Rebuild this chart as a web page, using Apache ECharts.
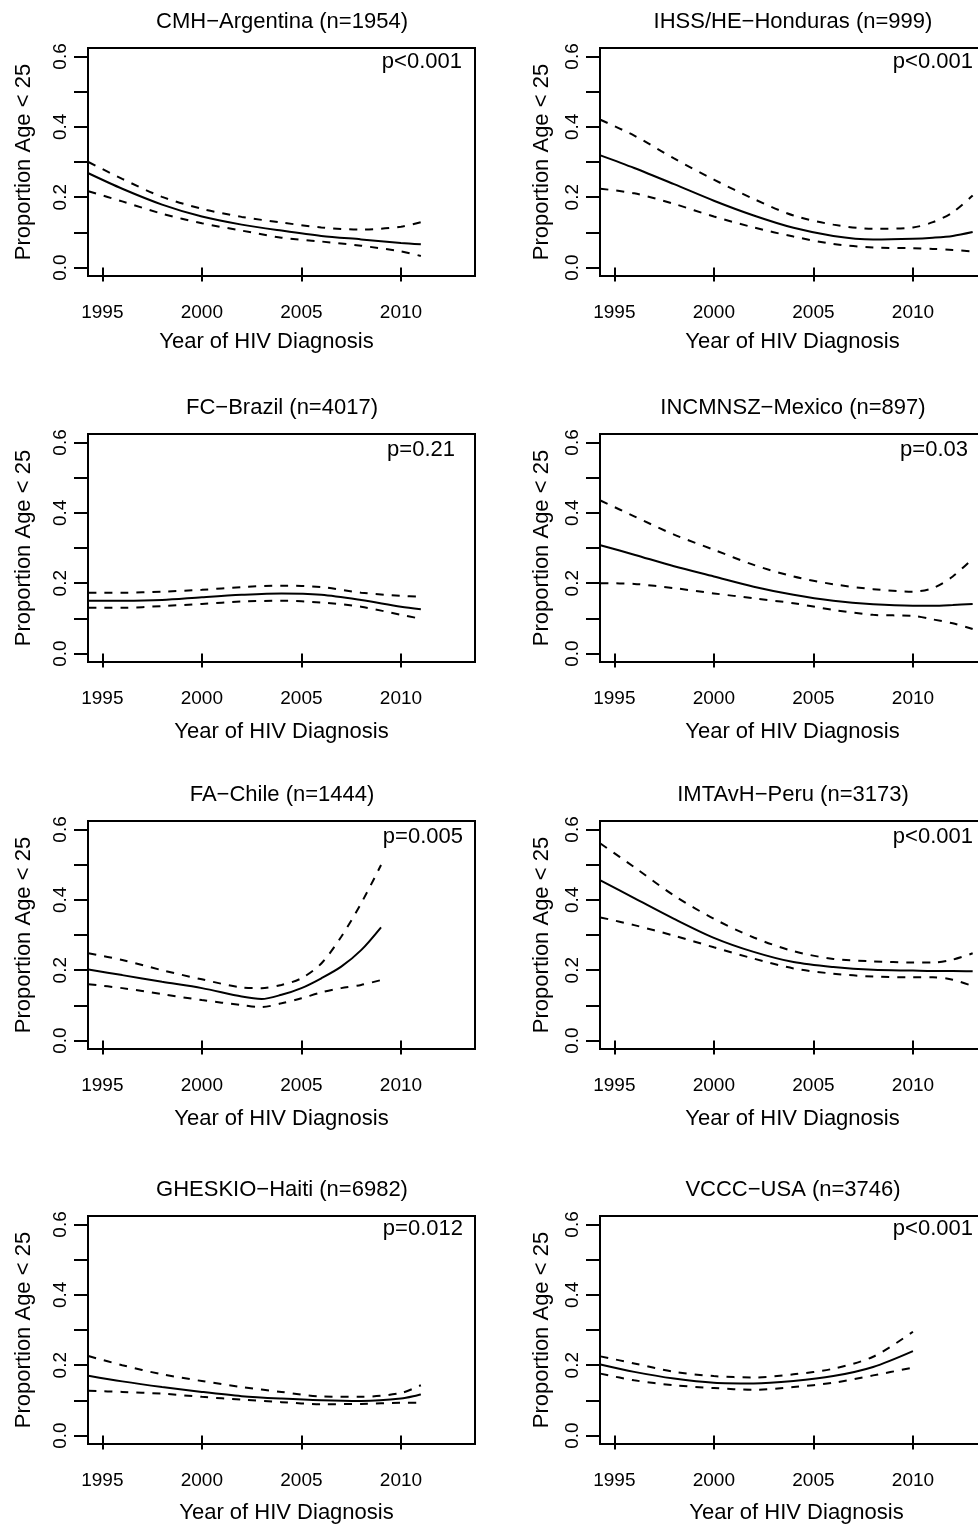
<!DOCTYPE html>
<html>
<head>
<meta charset="utf-8">
<style>
  html, body { margin: 0; padding: 0; background: #fff; }
  #chart-container { width: 978px; height: 1524px; }
</style>
</head>
<body>
<div id="chart-container"></div>
<script src="https://cdn.jsdelivr.net/npm/echarts@6/dist/echarts.min.js"></script>
<script>
var dom = document.getElementById("chart-container");
var myChart = echarts.init(dom, null, { renderer: "canvas" });

const FONT = "'Liberation Sans', Arial, Helvetica, sans-serif";

const panelTitles = [
  "CMH\u2212Argentina (n=1954)", "IHSS/HE\u2212Honduras (n=999)",
  "FC\u2212Brazil (n=4017)", "INCMNSZ\u2212Mexico (n=897)",
  "FA\u2212Chile (n=1444)", "IMTAvH\u2212Peru (n=3173)",
  "GHESKIO\u2212Haiti (n=6982)", "VCCC\u2212USA (n=3746)"
];
const pValues = ["p<0.001", "p<0.001", "p=0.21", "p=0.03", "p=0.005", "p<0.001", "p=0.012", "p<0.001"];
const xTicks = [1995, 2000, 2005, 2010];
const yTicks = [0, 0.1, 0.2, 0.3, 0.4, 0.5, 0.6];
const yLabels = [0, 0.2, 0.4, 0.6];

// Argentina
const argYears = [1994.3, 1996, 1998, 2000, 2002, 2004, 2006, 2008, 2010, 2011];
const argFit   = [0.268, 0.224, 0.179, 0.145, 0.122, 0.105, 0.090, 0.080, 0.070, 0.066];
const argUpper = [0.30, 0.252, 0.201, 0.167, 0.144, 0.128, 0.114, 0.108, 0.116, 0.129];
const argLower = [0.217, 0.188, 0.153, 0.126, 0.105, 0.085, 0.074, 0.062, 0.046, 0.033];

// Honduras
const honYears = [1994.3, 1996, 1998, 2000, 2002, 2004, 2006, 2008, 2010, 2011, 2012, 2013];
const honFit   = [0.319, 0.283, 0.237, 0.19, 0.148, 0.113, 0.09, 0.08, 0.082, 0.085, 0.09, 0.101];
const honUpper = [0.42, 0.375, 0.31, 0.25, 0.195, 0.148, 0.122, 0.11, 0.114, 0.129, 0.157, 0.205];
const honLower = [0.224, 0.211, 0.181, 0.145, 0.114, 0.088, 0.067, 0.057, 0.055, 0.053, 0.05, 0.046];

// Brazil
const braYears = [1994.3, 1996, 1998, 2000, 2002, 2004, 2006, 2008, 2010, 2011];
const braFit   = [0.15, 0.15, 0.152, 0.16, 0.167, 0.171, 0.167, 0.152, 0.133, 0.126];
const braUpper = [0.173, 0.173, 0.176, 0.181, 0.189, 0.193, 0.189, 0.173, 0.164, 0.162];
const braLower = [0.13, 0.13, 0.135, 0.141, 0.148, 0.15, 0.145, 0.133, 0.11, 0.099];

// Mexico
const mexYears = [1994.3, 1996, 1998, 2000, 2002, 2004, 2006, 2008, 2010, 2011, 2012, 2013];
const mexFit   = [0.308, 0.281, 0.248, 0.219, 0.19, 0.167, 0.15, 0.14, 0.136, 0.136, 0.138, 0.141];
const mexUpper = [0.435, 0.39, 0.338, 0.295, 0.252, 0.219, 0.197, 0.183, 0.176, 0.186, 0.219, 0.27];
const mexLower = [0.2, 0.198, 0.186, 0.171, 0.157, 0.143, 0.124, 0.11, 0.107, 0.097, 0.086, 0.07];

// Chile
const chiYears = [1994.3, 1996, 1998, 2000, 2002, 2003, 2004, 2005, 2006, 2007, 2008, 2009];
const chiFit   = [0.202, 0.186, 0.167, 0.149, 0.125, 0.118, 0.13, 0.149, 0.177, 0.21, 0.257, 0.322];
const chiUpper = [0.248, 0.229, 0.2, 0.174, 0.151, 0.149, 0.158, 0.177, 0.219, 0.295, 0.39, 0.499];
const chiLower = [0.16, 0.149, 0.132, 0.115, 0.101, 0.095, 0.106, 0.12, 0.137, 0.149, 0.158, 0.172];

// Peru
const perYears = [1994.3, 1996, 1998, 2000, 2002, 2004, 2006, 2008, 2010, 2011, 2012, 2013];
const perFit   = [0.455, 0.405, 0.346, 0.292, 0.252, 0.223, 0.209, 0.201, 0.199, 0.198, 0.198, 0.197];
const perUpper = [0.56, 0.493, 0.412, 0.346, 0.293, 0.254, 0.232, 0.225, 0.222, 0.222, 0.23, 0.248];
const perLower = [0.35, 0.328, 0.298, 0.265, 0.233, 0.205, 0.19, 0.182, 0.18, 0.18, 0.173, 0.155];

// Haiti
const haiYears = [1994.3, 1996, 1998, 2000, 2002, 2004, 2006, 2008, 2010, 2011];
const haiFit   = [0.17, 0.154, 0.138, 0.124, 0.112, 0.105, 0.1, 0.098, 0.105, 0.117];
const haiUpper = [0.226, 0.2, 0.174, 0.155, 0.138, 0.124, 0.111, 0.11, 0.121, 0.143];
const haiLower = [0.127, 0.124, 0.119, 0.11, 0.102, 0.095, 0.089, 0.09, 0.093, 0.093];

// USA
const usaYears = [1994.3, 1996, 1998, 2000, 2002, 2004, 2006, 2008, 2010];
const usaFit   = [0.202, 0.181, 0.162, 0.15, 0.148, 0.155, 0.169, 0.195, 0.24];
const usaUpper = [0.225, 0.205, 0.181, 0.169, 0.165, 0.174, 0.19, 0.224, 0.295];
const usaLower = [0.176, 0.157, 0.143, 0.135, 0.13, 0.138, 0.15, 0.171, 0.193];

const panelData = [
  [argYears, argFit, argUpper, argLower],
  [honYears, honFit, honUpper, honLower],
  [braYears, braFit, braUpper, braLower],
  [mexYears, mexFit, mexUpper, mexLower],
  [chiYears, chiFit, chiUpper, chiLower],
  [perYears, perFit, perUpper, perLower],
  [haiYears, haiFit, haiUpper, haiLower],
  [usaYears, usaFit, usaUpper, usaLower]
];

// layout (pixels)
const colLeft = [88, 600];
const colCenter = [282, 793];
const rowTop = [48, 434, 821, 1216];
const titleMid = [22, 408, 795, 1190];
const pMid = [62, 450, 837, 1229];
const pRight = [462, 973, 455, 968, 463, 973, 463, 973];
const xNameGap = [55, 59, 59, 58];
const xNameShift = [-15, -1, 0, -1, 0, -1, 5, 3];
const yNameGap = [53, 47];
const boxW = 387, boxH = 228;

var grids = [], xAxes = [], yAxes = [], series = [], titles = [];

panelData.forEach(function (d, i) {
  var col = i % 2, row = Math.floor(i / 2);
  grids.push({
    left: colLeft[col], top: rowTop[row], width: boxW, height: boxH,
    show: true, borderColor: "#000", borderWidth: 2,
    backgroundColor: "transparent", containLabel: false, outerBoundsMode: "none"
  });
  var shift = xNameShift[i];
  xAxes.push({
    gridIndex: i, type: "value", min: 1994.28, max: 2013.72,
    axisLine: { show: false },
    splitLine: { show: false },
    axisTick: { show: true, inside: false, length: 14, customValues: xTicks,
      lineStyle: { color: "#000", width: 2 } },
    axisLabel: { customValues: xTicks, margin: 27, fontSize: 19, lineHeight: 19,
      color: "#000", fontFamily: FONT, formatter: function (v) { return String(v); } },
    name: "Year of HIV Diagnosis", nameLocation: "middle", nameGap: xNameGap[row],
    nameTextStyle: { fontSize: 22, lineHeight: 22, color: "#000", fontFamily: FONT,
      padding: shift < 0 ? [0, -2 * shift, 0, 0] : [0, 0, 0, 2 * shift] }
  });
  yAxes.push({
    gridIndex: i, type: "value", min: -0.024, max: 0.624,
    axisLine: { show: false },
    splitLine: { show: false },
    axisTick: { show: true, inside: false, length: 14, customValues: yTicks,
      lineStyle: { color: "#000", width: 2 } },
    axisLabel: { customValues: yLabels, rotate: 90, margin: 18, fontSize: 19, lineHeight: 19,
      color: "#000", fontFamily: FONT, formatter: function (v) { return v.toFixed(1); } },
    name: "Proportion Age < 25", nameLocation: "middle", nameRotate: 90, nameGap: yNameGap[col],
    nameTextStyle: { fontSize: 22, lineHeight: 22, color: "#000", fontFamily: FONT }
  });
  var years = d[0];
  [[d[1], "solid"], [d[2], [8, 8]], [d[3], [8, 8]]].forEach(function (s) {
    series.push({
      type: "line", xAxisIndex: i, yAxisIndex: i, showSymbol: false, smooth: 0.3,
      silent: true, clip: true,
      data: years.map(function (x, k) { return [x, s[0][k]]; }),
      lineStyle: { color: "#000", width: 2, type: s[1] }
    });
  });
  titles.push({
    text: panelTitles[i], left: colCenter[col], textAlign: "center",
    top: titleMid[row] - 11, padding: 0,
    textStyle: { fontSize: 22, lineHeight: 22, fontWeight: "normal", color: "#000", fontFamily: FONT }
  });
  titles.push({
    text: pValues[i], left: pRight[i], textAlign: "right",
    top: pMid[row] - 11, padding: 0,
    textStyle: { fontSize: 22, lineHeight: 22, fontWeight: "normal", color: "#000", fontFamily: FONT }
  });
});

var option = {
  animation: false,
  backgroundColor: "#fff",
  title: titles,
  grid: grids,
  xAxis: xAxes,
  yAxis: yAxes,
  series: series
};

myChart.setOption(option);
window.addEventListener("resize", myChart.resize);
</script>
</body>
</html>
